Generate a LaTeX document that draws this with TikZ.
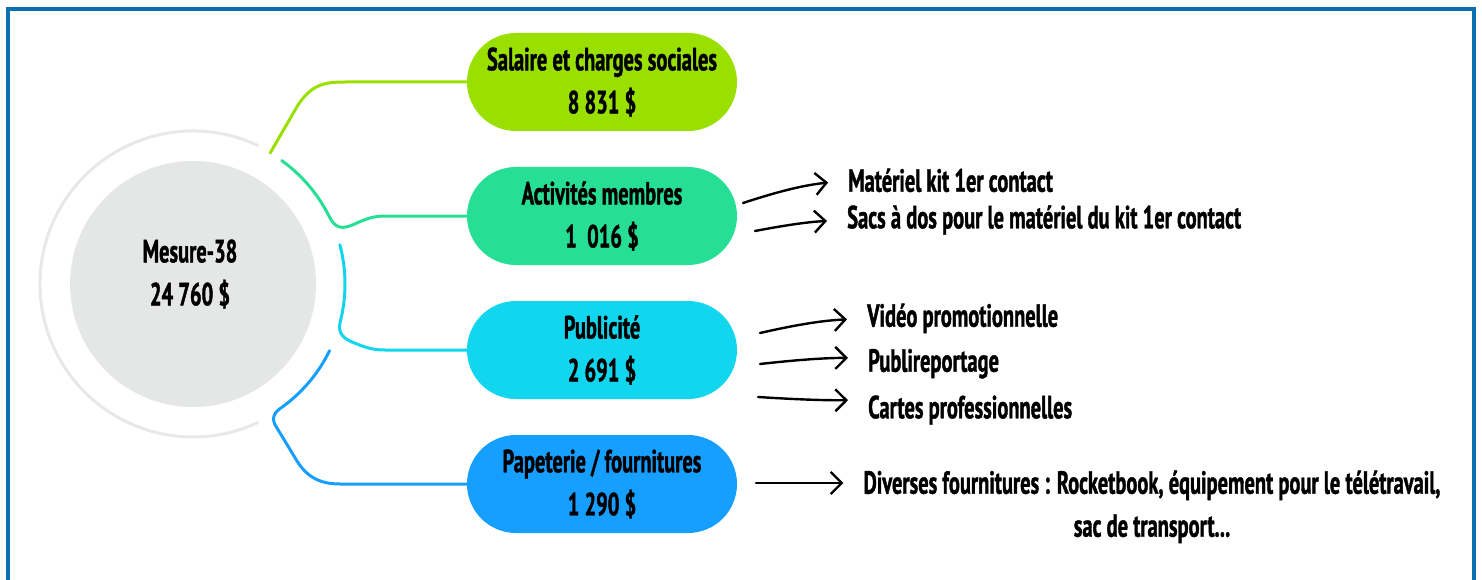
\documentclass[tikz,border=0pt]{standalone}
\usepackage{fontspec}
\newfontfamily\cf{PT Sans}[FakeStretch=0.64, BoldFeatures={FakeBold=1.2}]
\usetikzlibrary{arrows.meta}
\definecolor{lime}{HTML}{99E000}
\definecolor{tealg}{HTML}{26DF94}
\definecolor{cyanb}{HTML}{12D5EE}
\definecolor{blueb}{HTML}{169FFF}
\definecolor{cgray}{HTML}{E5E6E6}
\definecolor{rgray}{HTML}{E8E8E8}
\definecolor{frame}{HTML}{0A70B0}
\begin{document}
\begin{tikzpicture}[x=1pt,y=-1pt,
  txt/.style={font=\cf\bfseries\fontsize{32}{43}\selectfont},
  pill/.style={txt, rounded corners=49pt, minimum width=270pt, minimum height=98pt, align=center, inner sep=0pt},
  lbl/.style={txt, anchor=base west, inner sep=0pt},
  conn/.style={line width=3pt, line cap=round},
  ring/.style={line width=3pt, rgray, line cap=round},
  arr/.style={line width=2.4pt, line cap=round, -{Straight Barb[length=11pt,width=22pt]}, shorten >=20pt}]
\useasboundingbox (0,0) rectangle (1482,580);
\clip (0,0) rectangle (1482,580);
\draw[line width=4.5pt, frame] (8,9) rectangle (1474,600);
% centre
\node[circle, fill=cgray, minimum size=246pt, inner sep=0pt] (c) at (193,284) {};
\node[txt, align=center, inner sep=0pt] (ct) at (190,274) {Mesure-38\\24 760 \$};
\draw[ring] (c.center) ++(-65:153) arc[start angle=-65, end angle=-295, radius=153];
% pills
\node[pill, fill=lime]  (sal) at (602,82)  {Salaire et charges sociales\\8 831 \$};
\node[pill, fill=tealg] (act) at (602,216) {Activités membres\\1~~016 \$};
\node[pill, fill=cyanb] (pub) at (602,350) {Publicité\\2 691 \$};
\node[pill, fill=blueb] (pap) at (602,484) {Papeterie / fournitures\\1 290 \$};
% connectors
\draw[conn, lime] (c.center) ++(-59.5:152) -- (298,105) .. controls (312,84) and (325,82) .. (345,82) -- (sal.west);
\draw[conn, tealg] (c.center) ++(-54.3:152) arc[start angle=-54.3, end angle=-27, radius=152]
  .. controls (332,222) and (336,229) .. (346,227) .. controls (356,225) and (366,216) .. (385,216) -- (act.west);
\draw[conn, cyanb] (c.center) ++(-15:152) arc[start angle=-15, end angle=14, radius=152]
  .. controls (338,330) and (340,337) .. (352,342) .. controls (362,346) and (370,350) .. (385,350) -- (pub.west);
\draw[conn, blueb] (c.center) ++(26:152) arc[start angle=26, end angle=55, radius=152]
  .. controls (272,414) and (272,421) .. (277,428) -- (297,461) .. controls (307,477) and (320,484) .. (340,484) -- (pap.west);
% labels
\node[lbl] (m1) at (848,191.7) {Matériel kit 1er contact};
\node[lbl] (m2) at (847,228.3) {Sacs à dos pour le matériel du kit 1er contact};
\node[lbl] (p1) at (867,326.7) {Vidéo promotionnelle};
\node[lbl] (p2) at (868,371.7) {Publireportage};
\node[lbl] (p3) at (868,418.3) {Cartes professionnelles};
\node[txt, align=center, anchor=base, inner sep=0pt] (d) at (1152,536.7) {Diverses fournitures : Rocketbook, équipement pour le télétravail,\\sac de transport...};
% arrows
\coordinate (t1) at (743,203);
\coordinate (t2) at (755,231);
\coordinate (t3) at (760,333);
\coordinate (t4) at (760,364);
\coordinate (t5) at (758,397);
\coordinate (t6) at (756,483);
\draw[arr] (t1) to[bend left=6] (m1.west);
\draw[arr] (t2) to[bend left=4] (m2.west);
\draw[arr] (t3) to[bend left=5] (p1.west);
\draw[arr] (t4) to[bend left=3] ([yshift=6pt]p2.west);
\draw[arr] (t5) to[bend right=2] ([yshift=10pt]p3.west);
\draw[arr] (t6) -- (d.west |- t6);
\end{tikzpicture}
\end{document}
